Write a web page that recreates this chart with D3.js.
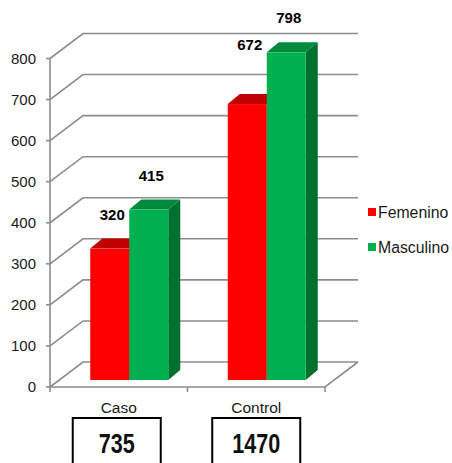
<!DOCTYPE html>
<html>
<head>
<meta charset="utf-8">
<script src="https://cdn.jsdelivr.net/npm/d3@7"></script>
<style>
  html, body { margin: 0; padding: 0; background: #fff; }
  svg { display: block; font-family: "Liberation Sans", Arial, sans-serif; }
</style>
</head>
<body>
<svg id="chart" width="452" height="463"></svg>
<script>
// Group labels, series names and counts per group
const categories = ["Caso", "Control"];
const seriesNames = ["Femenino", "Masculino"];
const femenino = [320, 672];
const masculino = [415, 798];
const yTicks = [0, 100, 200, 300, 400, 500, 600, 700, 800];

const seriesValues = [femenino, masculino];
const palette = {
  Femenino: { front: "#ff0000", top: "#c00000", side: "#a00000" },
  Masculino: { front: "#00b050", top: "#008a3e", side: "#00702f" }
};

const svg = d3.select("#chart");

// Geometry of the 3D frame
const left = 50, right = 325;
const wallDx = 33, wallDy = -25;      // depth of the back wall
const barDx = 10.5, barDy = -7;       // bars sit slightly into the floor
const depthDx = 12, depthDy = -10;    // thickness of each bar
const barW = 39;

const y = d3.scaleLinear().domain([0, 800]).range([387, 58.5]);
const x0 = d3.scaleBand().domain(categories).range([left, right]);
const x1 = d3.scaleBand().domain(seriesNames).range([-barW, barW]);

const gridColor = "#8c8c8c";
const grid = svg.append("g").attr("fill", "none").attr("stroke", gridColor).attr("stroke-width", 1.6);

// Gridlines: diagonal on the side wall, then straight along the back wall
yTicks.forEach(v => {
  const yy = y(v);
  grid.append("polyline")
    .attr("points", [[left, yy], [left + wallDx, yy + wallDy], [right + wallDx, yy + wallDy]].join(" "));
  grid.append("line").attr("x1", left - 4).attr("x2", left).attr("y1", yy).attr("y2", yy);
});

// Value axis and floor outline
grid.append("line").attr("x1", left).attr("x2", left).attr("y1", y(0)).attr("y2", y(800));
grid.append("polyline")
  .attr("points", [[left, y(0)], [right, y(0)], [right + wallDx, y(0) + wallDy]].join(" "));
[left, ...categories.map(c => x0(c) + x0.bandwidth())].forEach(xx => {
  grid.append("line").attr("x1", xx).attr("x2", xx).attr("y1", y(0)).attr("y2", y(0) + 5);
});

// Value axis labels
svg.append("g").selectAll("text").data(yTicks).join("text")
  .attr("x", 36).attr("y", d => y(d) + 5.4)
  .attr("text-anchor", "end")
  .attr("font-size", 15).attr("fill", "#1a1a1a")
  .text(d => d);

// Bars drawn as front face, top face and right side
const barBase = y(0) + barDy;
const hScale = v => y(0) - y(v);
const bars = svg.append("g");
const labelNudge = { "Control|Femenino": -25 };
const labels = [];

categories.forEach((cat, ci) => {
  const cx = x0(cat) + x0.bandwidth() / 2 + barDx;
  seriesNames.forEach((s, si) => {
    const v = seriesValues[si][ci];
    const bx = cx + x1(s);
    const top = barBase - hScale(v);
    const col = palette[s];
    const g = bars.append("g");
    g.append("polygon")
      .attr("points", [[bx + barW, barBase], [bx + barW + depthDx, barBase + depthDy],
        [bx + barW + depthDx, top + depthDy], [bx + barW, top]].join(" "))
      .attr("fill", col.side);
    g.append("polygon")
      .attr("points", [[bx, top], [bx + depthDx, top + depthDy],
        [bx + barW + depthDx, top + depthDy], [bx + barW, top]].join(" "))
      .attr("fill", col.top);
    g.append("rect")
      .attr("x", bx).attr("y", top).attr("width", barW).attr("height", barBase - top)
      .attr("fill", col.front);
    labels.push({ x: bx + barW / 2 + 2.5, y: top - 29 + (labelNudge[cat + "|" + s] || 0), v });
  });
});

svg.append("g").selectAll("text").data(labels).join("text")
  .attr("x", d => d.x).attr("y", d => d.y)
  .attr("text-anchor", "middle")
  .attr("font-size", 15).attr("font-weight", "bold").attr("fill", "#000")
  .text(d => d.v);

// Category labels
svg.append("g").selectAll("text").data(categories).join("text")
  .attr("x", d => x0(d) + x0.bandwidth() / 2)
  .attr("y", 412.5)
  .attr("text-anchor", "middle")
  .attr("font-size", 15.5).attr("fill", "#1a1a1a")
  .text(d => d);

// Group totals in boxes under each category
const totals = categories.map((c, i) => ({ c, total: d3.sum(seriesValues, s => s[i]) }));
const boxes = svg.append("g");
totals.forEach((d, i) => {
  const cx = x0(d.c) + x0.bandwidth() / 2 - 2 + i * 2;
  boxes.append("rect")
    .attr("x", cx - 44).attr("y", 418).attr("width", 88).attr("height", 60)
    .attr("fill", "#fff").attr("stroke", "#000").attr("stroke-width", 2);
  boxes.append("text")
    .attr("transform", `translate(${cx},452.5) scale(0.8,1)`)
    .attr("text-anchor", "middle")
    .attr("font-size", 27).attr("font-weight", "bold").attr("fill", "#111")
    .text(d.total);
});

// Legend
const legend = svg.append("g");
seriesNames.forEach((s, i) => {
  const ly = 212.5 + i * 35;
  legend.append("rect").attr("x", 368).attr("y", ly - 4.5).attr("width", 8).attr("height", 8)
    .attr("fill", palette[s].front);
  legend.append("text").attr("x", 378).attr("y", ly + 5.6)
    .attr("font-size", 15.8).attr("fill", "#1a1a1a").text(s);
});
</script>
</body>
</html>
